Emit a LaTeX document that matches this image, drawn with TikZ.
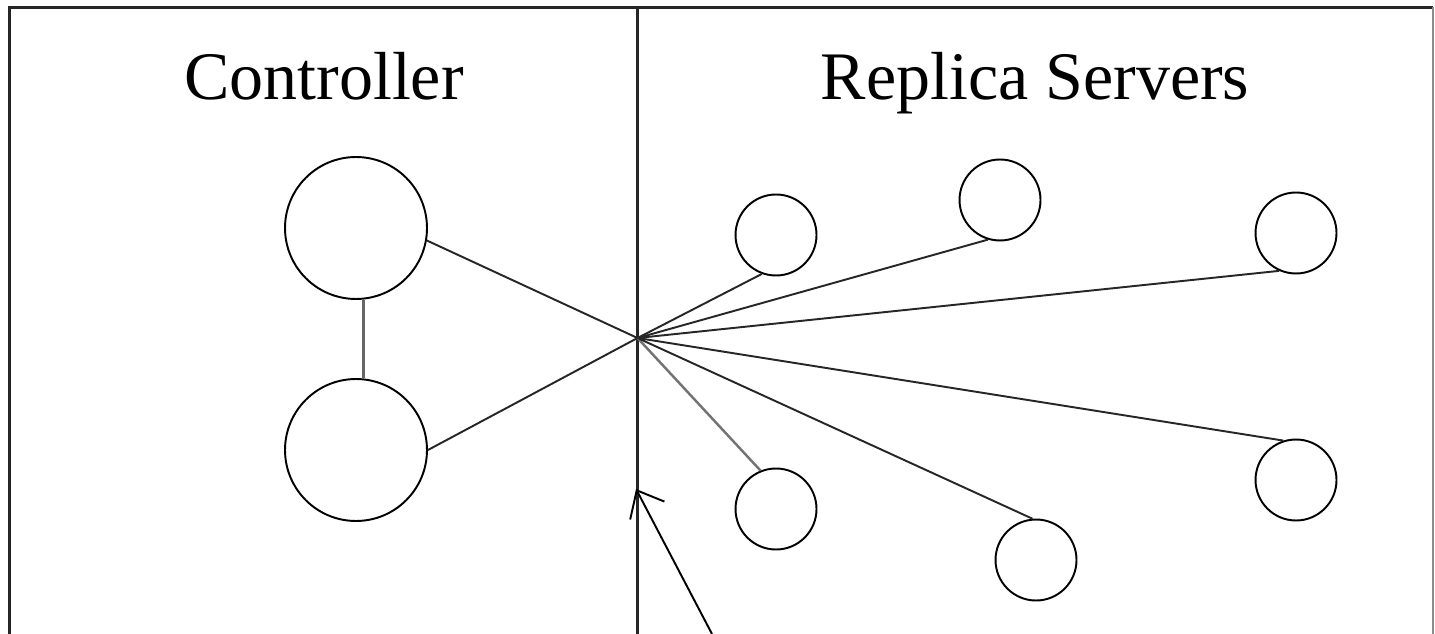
\documentclass[tikz,border=0pt]{standalone}
\usepackage{fontspec}
\setmainfont{Liberation Serif}
\usetikzlibrary{arrows.meta}
\begin{document}
\begin{tikzpicture}[x=0.02cm, y=-0.02cm,
  every node/.style={font=\fontsize{38.7}{46}\selectfont},
  ctrl/.style={draw, circle, line width=1.1pt, minimum size=2.84cm, inner sep=0pt},
  rep/.style={draw, circle, line width=1.1pt, minimum size=1.62cm, inner sep=0pt},
  link/.style={line width=1.1pt, black!85}]
\useasboundingbox (0,0) rectangle (1435,634);
\draw[line width=1.7pt, black!85] (9.5,634) -- (9.5,7.5) -- (1433,7.5);
\draw[line width=1.2pt, black!45] (1433,7.5) -- (1433,634);
\coordinate (top) at (637.5,7.5);
\coordinate (bot) at (637.5,634);
\coordinate (hub) at (637.5,338);
\draw[line width=1.7pt, black!85] (top) -- (bot);
\node[anchor=base] (tctrl) at (324,100) {Controller};
\node[anchor=base] (trep) at (1035,100) {Replica Servers};
\node[ctrl] (c1) at (356,228) {};
\node[ctrl] (c2) at (356,450) {};
\node[rep] (r1) at (776,235) {};
\node[rep] (r2) at (1000,200) {};
\node[rep] (r3) at (1296,233) {};
\node[rep] (r4) at (1296,480) {};
\node[rep] (r5) at (776,509) {};
\node[rep] (r6) at (1036,560) {};
\draw[line width=1.6pt, black!60] (c1.-84) -- (c2.84);
\draw[link] (c1.-10) -- (hub);
\draw[link] (c2.0) -- (hub);
\draw[link] (hub) -- (r1.-110);
\draw[link] (hub) -- (r2.-107);
\draw[link] (hub) -- (r3.-114);
\draw[link] (hub) -- (r4.108);
\draw[link, black!55, line width=1.4pt] (hub) -- (r5.112);
\draw[link] (hub) -- (r6.95);
\coordinate (tail) at (712,634);
\coordinate (tip) at (636,489);
\draw[-{Straight Barb[length=13pt,width=22pt]}, line width=1.1pt] (tail) -- (tip);
\end{tikzpicture}
\end{document}
